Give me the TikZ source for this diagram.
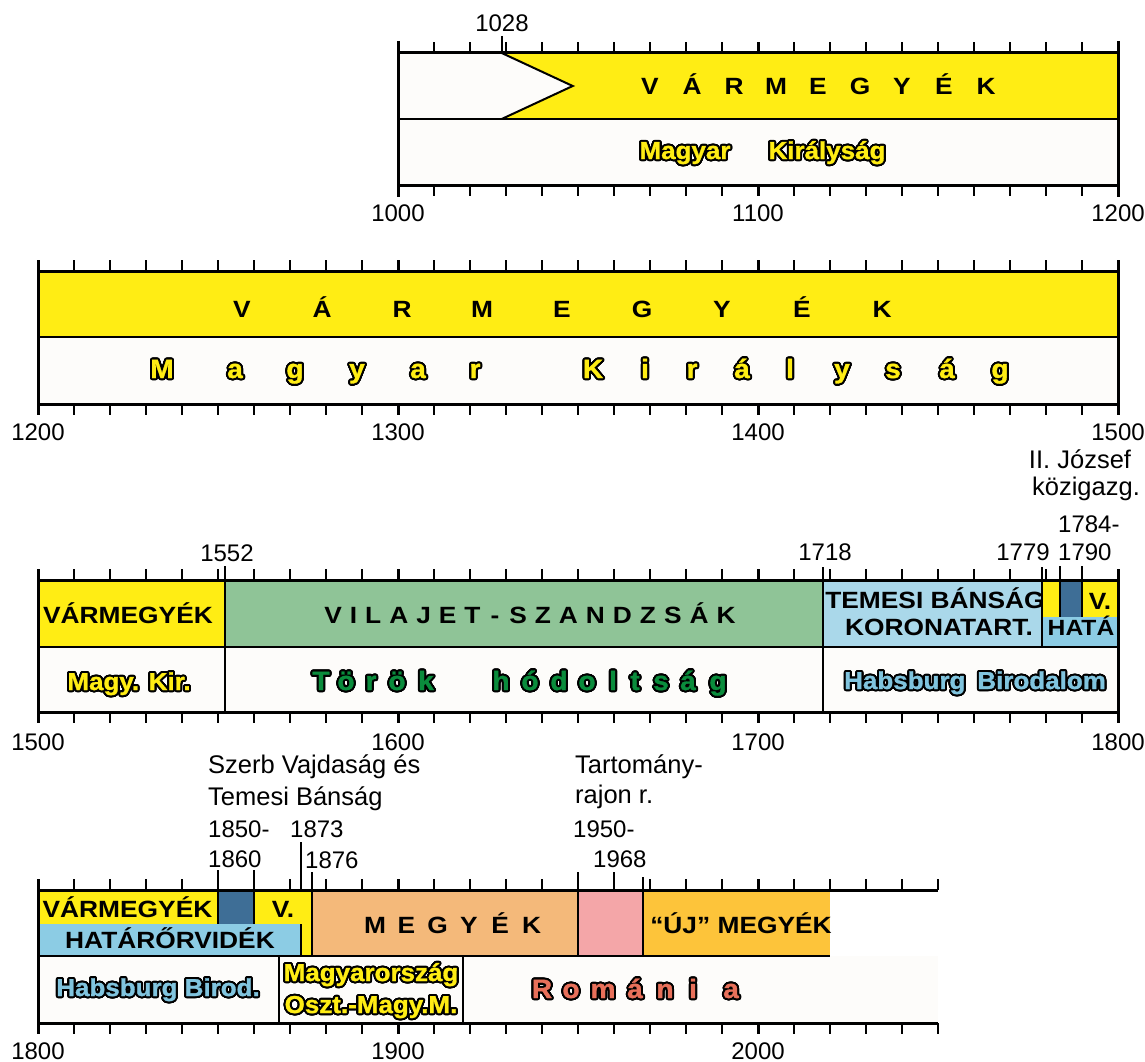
\documentclass[tikz,border=0pt]{standalone}
\usepackage{fontspec}
\setmainfont{Liberation Sans}
\newfontfamily\wb[FakeStretch=1.12]{Liberation Sans}
\newfontfamily\wbo[FakeStretch=1.06,FakeBold=1.2]{Liberation Sans}
\usepackage[copies]{contour}
\contourlength{2pt}
\contournumber{24}
\definecolor{ylw}{RGB}{255,237,20}
\definecolor{offw}{RGB}{253,252,250}
\definecolor{grn}{RGB}{143,196,151}
\definecolor{grnt}{RGB}{10,140,60}
\definecolor{lblue}{RGB}{170,216,234}
\definecolor{hblue}{RGB}{140,204,228}
\definecolor{dblue}{RGB}{62,110,150}
\definecolor{habt}{RGB}{128,196,222}
\definecolor{orng}{RGB}{244,185,122}
\definecolor{pnk}{RGB}{244,166,168}
\definecolor{gld}{RGB}{253,196,58}
\definecolor{romt}{RGB}{232,112,90}
\newcommand\lgap[1]{\hspace{#1pt}}
\newcommand\outl[2]{{\color{#1}\contour{black}{#2}}}
\newcommand\tickrow[4]{%
  \foreach \k in {0,...,#2}{%
    \pgfmathtruncatemacro\mm{mod(\k,10)}%
    \ifnum\mm=0 \def\tklw{3pt}\else\def\tklw{1.6pt}\fi
    \draw[line width=\tklw] ({#1+36*\k},#3) -- ++(0,-11);
    \draw[line width=\tklw] ({#1+36*\k},#4) -- ++(0,11);
  }}
\tikzset{
  num/.style={font=\fontsize{24}{26}\selectfont, inner sep=0pt, anchor=base},
  lbl/.style={font=\fontsize{25.5}{28}\selectfont, inner sep=0pt, anchor=base west},
  bt/.style={font=\wb\bfseries\fontsize{23.5}{26}\selectfont, inner sep=0pt, anchor=base},
  ot/.style={font=\wbo\bfseries\fontsize{24.5}{26}\selectfont, inner sep=0pt, anchor=base},
  otl/.style={font=\wbo\bfseries\fontsize{26.5}{28}\selectfont, inner sep=0pt, anchor=base},
  frame/.style={line width=3pt},
  midl/.style={line width=2pt},
  tk/.style={line width=1.6pt},
}
\begin{document}
\begin{tikzpicture}[x=1pt,y=-1pt]
\useasboundingbox (0,0) rectangle (1145,1062);
% ================= ROW 1: 1000-1200 =================
\fill[offw] (398,53) rectangle (1118,185);
\fill[ylw] (501.7,53) -- (572.7,86) -- (501.7,119) -- (1118,119) -- (1118,53) -- cycle;
\draw[midl] (501.7,53) -- (572.7,86) -- (501.7,119);
\draw[midl] (398,119) -- (1118,119);
\tickrow{398}{20}{53}{185}
\draw[frame] (398,53) -- (1118,53);
\draw[frame] (398,185) -- (1118,185);
\draw[frame] (398,41) -- (398,197);
\draw[frame] (1118,41) -- (1118,197);
\draw[tk] (501.7,36) -- (501.7,53);
\node[num] (n1028) at (502,32) {1028};
\foreach \l [count=\i from 0] in {V,Á,R,M,E,G,Y,É,K}
  \node[bt] (ra\i) at ({650+42*\i},94.5) {\l};
\node[ot] (rmag) at (685,159) {\outl{ylw}{Magyar}};
\node[ot] (rkir) at (827,159) {\outl{ylw}{Királyság}};
\node[num] (n1000) at (398,221) {1000};
\node[num] (n1100) at (758,221) {1100};
\node[num] (n1200a) at (1118,221) {1200};
% ================= ROW 2: 1200-1500 =================
\fill[offw] (38,271) rectangle (1118,404);
\fill[ylw] (38,271) rectangle (1118,337);
\draw[midl] (38,337) -- (1118,337);
\tickrow{38}{30}{271}{404}
\draw[frame] (38,271) -- (1118,271);
\draw[frame] (38,404) -- (1118,404);
\draw[frame] (38,260) -- (38,415);
\draw[frame] (1118,260) -- (1118,415);
\foreach \l [count=\i from 0] in {V,Á,R,M,E,G,Y,É,K}
  \node[bt] (rb\i) at ({242+80*\i},317.5) {\l};
\foreach \xx/\l [count=\i] in {162/M,235/a,295/g,357/y,418/a,475/r,593/K,645/i,692/r,742/á,790/l,842/y,893/s,947/á,1000/g}
  \node[otl] (rc\i) at (\xx,378) {\outl{ylw}{\l}};
\node[num] (n1200b) at (38,440) {1200};
\node[num] (n1300) at (398,440) {1300};
\node[num] (n1400) at (758,440) {1400};
\node[num] (n1500a) at (1118,440) {1500};
% ================= ROW 3: 1500-1800 =================
\fill[offw] (38,647) rectangle (1118,712);
\fill[ylw] (38,580) rectangle (225,647);
\fill[grn] (225,580) rectangle (822.8,647);
\fill[lblue] (822.8,580) rectangle (1118,647);
\fill[ylw] (1042.4,580) rectangle (1118,617);
\fill[hblue] (1042.4,617) rectangle (1118,647);
\fill[dblue] (1060.4,580) rectangle (1082,617);
\node[bt,font=\wb\bfseries\fontsize{22}{24}\selectfont] (hata) at (1081,635) {HATÁ};
\draw[midl] (38,647) -- (1118,647);
\draw[midl] (225,566) -- (225,712);
\draw[midl] (822.8,567) -- (822.8,712);
\draw[midl] (1042.4,567) -- (1042.4,647);
\draw[midl] (1060.4,566) -- (1060.4,617);
\draw[midl] (1082,566) -- (1082,617);
\tickrow{38}{30}{580}{712}
\draw[frame] (38,580) -- (1118,580);
\draw[frame] (38,712) -- (1118,712);
\draw[frame] (38,569) -- (38,723);
\draw[frame] (1118,569) -- (1118,723);
\node[bt] (vm3) at (128,623) {VÁRMEGYÉK};
\node[ot] (mk3) at (129,690) {\outl{ylw}{Magy. Kir.}};
\node[bt] (vil) at (530,623) {V\lgap{8}I\lgap{8}L\lgap{8}A\lgap{8}J\lgap{8}E\lgap{8}T\lgap{10}-\lgap{10}S\lgap{8}Z\lgap{8}A\lgap{8}N\lgap{8}D\lgap{8}Z\lgap{8}S\lgap{8}Á\lgap{8}K};
\foreach \xx/\l [count=\i] in {321/T,346/ö,371/r,397/ö,426/k,501/h,530/ó,559/d,587/o,613/l,635/t,661/s,688/á,718/g}
  \node[otl] (tk\i) at (\xx,690) {\outl{grnt}{\l}};
\node[bt] (tem) at (935,608) {TEMESI BÁNSÁG};
\node[bt] (kor) at (939,635) {KORONATART.};
\node[bt] (v3) at (1100,609) {V.};
\node[ot] (hab3) at (975,689) {\outl{habt}{Habsburg\lgap{12}Birodalom}};
\node[num] (n1552) at (227,561) {1552};
\node[num] (n1718) at (825,560) {1718};
\node[num] (n1779) at (1023,560) {1779};
\node[num,anchor=base west] (n1790) at (1058,560) {1790};
\node[num,anchor=base west] (n1784) at (1058,532) {1784-};
\node[lbl,anchor=base] (jozs) at (1080,468) {II. József};
\node[lbl,anchor=base] (kozi) at (1086,495) {közigazg.};
\node[num] (n1500b) at (38,750) {1500};
\node[num] (n1600) at (398,750) {1600};
\node[num] (n1700) at (758,750) {1700};
\node[num] (n1800a) at (1118,750) {1800};
% ================= ROW 4: 1800-2050 =================
\fill[offw] (38,956) rectangle (938,1023);
\fill[ylw] (38,890) rectangle (311.6,956);
\fill[hblue] (38,924) rectangle (300.8,956);
\fill[dblue] (218,890) rectangle (254,924);
\fill[orng] (311.6,890) rectangle (578,956);
\fill[pnk] (578,890) rectangle (642.8,956);
\fill[gld] (642.8,890) rectangle (830,956);
\draw[midl] (38,956) -- (830,956);
\draw[midl] (218,870) -- (218,924);
\draw[midl] (254,870) -- (254,924);
\draw[midl] (300.8,842) -- (300.8,890);
\draw[midl] (300.8,924) -- (300.8,956);
\draw[midl] (311.6,872) -- (311.6,956);
\draw[midl] (578,872) -- (578,956);
\draw[midl] (614,872) -- (614,890);
\draw[midl] (642.8,877) -- (642.8,956);
\draw[midl] (279,956) -- (279,1023);
\draw[midl] (463,956) -- (463,1023);
\tickrow{38}{25}{890}{1023}
\draw[frame] (38,890) -- (938,890);
\draw[frame] (38,1023) -- (938,1023);
\draw[frame] (38,879) -- (38,1034);
\node[bt] (vm4) at (127.5,917) {VÁRMEGYÉK};
\node[bt] (v4) at (283,917) {V.};
\node[bt] (hat4) at (170,948) {HATÁRŐRVIDÉK};
\foreach \l [count=\i from 0] in {M,E,G,Y,É,K}
  \node[bt] (rm\i) at ({375+31.3*\i},933) {\l};
\node[bt] (uj) at (741,933) {“ÚJ” MEGYÉK};
\node[ot] (hab4) at (158,996) {\outl{habt}{Habsburg Birod.}};
\node[ot] (mo1) at (371,981) {\outl{ylw}{Magyarország}};
\node[ot] (mo2) at (371,1013) {\outl{ylw}{Oszt.-Magy.M.}};
\foreach \xx/\l [count=\i] in {542/R,571/o,603/m,635/á,665/n,693/i,731/a}
  \node[otl] (ro\i) at (\xx,998) {\outl{romt}{\l}};
\node[lbl] (szerb) at (208,773) {Szerb Vajdaság és};
\node[lbl] (temb) at (208,805) {Temesi Bánság};
\node[num,anchor=base west] (n1850) at (208,837) {1850-};
\node[num,anchor=base west] (n1860) at (208,867) {1860};
\node[num,anchor=base west] (n1873) at (290,837) {1873};
\node[num,anchor=base west] (n1876) at (305,868) {1876};
\node[lbl] (tart) at (575,773) {Tartomány-};
\node[lbl] (rajon) at (575,803) {rajon r.};
\node[num,anchor=base west] (n1950) at (573,837) {1950-};
\node[num,anchor=base west] (n1968) at (593,867) {1968};
\node[num] (n1800b) at (38,1059) {1800};
\node[num] (n1900) at (398,1059) {1900};
\node[num] (n2000) at (758,1059) {2000};
\end{tikzpicture}
\end{document}
